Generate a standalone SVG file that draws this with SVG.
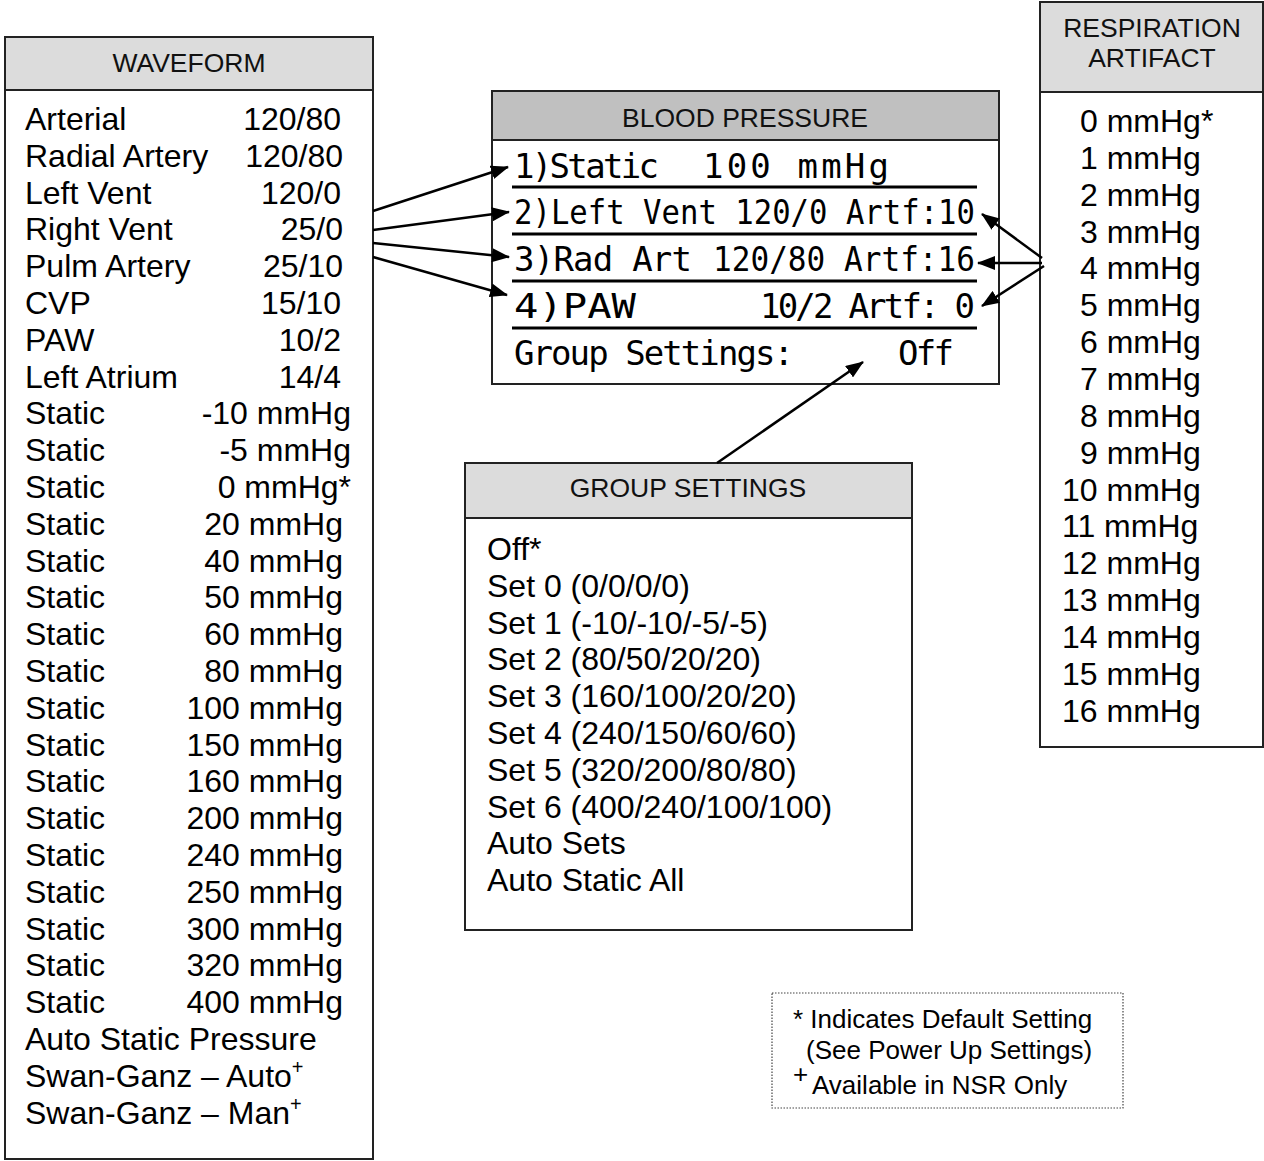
<svg xmlns="http://www.w3.org/2000/svg" width="1264" height="1161" viewBox="0 0 1264 1161">
<style>
.box{fill:#fff;stroke:#222;stroke-width:2}
.hdr{fill:#dcdcdc;stroke:#222;stroke-width:2}
.hdr2{fill:#c0c0c0;stroke:#222;stroke-width:2}
.ht{font-family:"Liberation Sans",Arial,sans-serif;font-size:26.5px;fill:#111;text-anchor:middle}
.t{font-family:"Liberation Sans",Arial,sans-serif;font-size:32px;fill:#000}
.v{font-family:"Liberation Sans",Arial,sans-serif;font-size:32px;fill:#000;text-anchor:end}
.sup{font-size:20px}
.lcd{font-family:"DejaVu Sans Mono","Liberation Mono",monospace;font-size:34px;fill:#000}
.sep{stroke:#000;stroke-width:3}
.note{font-family:"Liberation Sans",Arial,sans-serif;font-size:26px;fill:#000}
.conn{stroke:#000;stroke-width:2.5;fill:none;marker-end:url(#ah)}
</style>
<defs>
<marker id="ah" markerUnits="userSpaceOnUse" markerWidth="18" markerHeight="14" refX="17" refY="7" orient="auto">
<path d="M0,0 L18,7 L0,14 z" fill="#000"/>
</marker>
</defs>
<rect width="1264" height="1161" fill="#fff"/>

<g id="waveform">
<rect class="box" x="5" y="37" width="368" height="1122"/>
<rect class="hdr" x="5" y="37" width="368" height="53"/>
<text class="ht" x="189" y="72">WAVEFORM</text>
<text class="t" x="25" y="130">Arterial</text><text class="v" x="341" y="130">120/80</text>
<text class="t" x="25" y="166.8">Radial Artery</text><text class="v" x="343" y="166.8">120/80</text>
<text class="t" x="25" y="203.6">Left Vent</text><text class="v" x="341" y="203.6">120/0</text>
<text class="t" x="25" y="240.4">Right Vent</text><text class="v" x="343" y="240.4">25/0</text>
<text class="t" x="25" y="277.2">Pulm Artery</text><text class="v" x="343" y="277.2">25/10</text>
<text class="t" x="25" y="314">CVP</text><text class="v" x="341" y="314">15/10</text>
<text class="t" x="25" y="350.8">PAW</text><text class="v" x="341" y="350.8">10/2</text>
<text class="t" x="25" y="387.6">Left Atrium</text><text class="v" x="341" y="387.6">14/4</text>
<text class="t" x="25" y="424.4">Static</text><text class="v" x="351" y="424.4">-10 mmHg</text>
<text class="t" x="25" y="461.2">Static</text><text class="v" x="351" y="461.2">-5 mmHg</text>
<text class="t" x="25" y="498">Static</text><text class="v" x="351" y="498">0 mmHg*</text>
<text class="t" x="25" y="534.8">Static</text><text class="v" x="343" y="534.8">20 mmHg</text>
<text class="t" x="25" y="571.6">Static</text><text class="v" x="343" y="571.6">40 mmHg</text>
<text class="t" x="25" y="608.4">Static</text><text class="v" x="343" y="608.4">50 mmHg</text>
<text class="t" x="25" y="645.2">Static</text><text class="v" x="343" y="645.2">60 mmHg</text>
<text class="t" x="25" y="682">Static</text><text class="v" x="343" y="682">80 mmHg</text>
<text class="t" x="25" y="718.8">Static</text><text class="v" x="343" y="718.8">100 mmHg</text>
<text class="t" x="25" y="755.6">Static</text><text class="v" x="343" y="755.6">150 mmHg</text>
<text class="t" x="25" y="792.4">Static</text><text class="v" x="343" y="792.4">160 mmHg</text>
<text class="t" x="25" y="829.2">Static</text><text class="v" x="343" y="829.2">200 mmHg</text>
<text class="t" x="25" y="866">Static</text><text class="v" x="343" y="866">240 mmHg</text>
<text class="t" x="25" y="902.8">Static</text><text class="v" x="343" y="902.8">250 mmHg</text>
<text class="t" x="25" y="939.6">Static</text><text class="v" x="343" y="939.6">300 mmHg</text>
<text class="t" x="25" y="976.4">Static</text><text class="v" x="343" y="976.4">320 mmHg</text>
<text class="t" x="25" y="1013.2">Static</text><text class="v" x="343" y="1013.2">400 mmHg</text>
<text class="t" x="25" y="1050">Auto Static Pressure</text>
<text class="t" x="25" y="1086.8">Swan-Ganz – Auto<tspan class="sup" dy="-13">+</tspan></text>
<text class="t" x="25" y="1123.6">Swan-Ganz – Man<tspan class="sup" dy="-13">+</tspan></text>
</g>

<g id="blood-pressure">
<rect class="box" x="492" y="91" width="507" height="293"/>
<rect class="hdr2" x="492" y="91" width="507" height="49"/>
<text class="ht" x="745" y="127">BLOOD PRESSURE</text>
<text class="lcd" x="514" y="178" textLength="145" lengthAdjust="spacing">1)Static</text>
<text class="lcd" x="703" y="178" textLength="186" lengthAdjust="spacing">100 mmHg</text>
<line class="sep" x1="512" y1="187" x2="977" y2="187"/>
<text class="lcd" x="514" y="224" textLength="461" lengthAdjust="spacingAndGlyphs">2)Left Vent 120/0 Artf:10</text>
<line class="sep" x1="512" y1="234" x2="977" y2="234"/>
<text class="lcd" x="514" y="271" textLength="178" lengthAdjust="spacing">3)Rad Art</text>
<text class="lcd" x="713" y="271" textLength="262" lengthAdjust="spacingAndGlyphs">120/80 Artf:16</text>
<line class="sep" x1="512" y1="281" x2="977" y2="281"/>
<text class="lcd" x="514" y="318" textLength="122" lengthAdjust="spacingAndGlyphs">4)PAW</text>
<text class="lcd" x="760" y="318" textLength="215" lengthAdjust="spacing">10/2 Artf: 0</text>
<line class="sep" x1="512" y1="328" x2="977" y2="328"/>
<text class="lcd" x="514" y="365" textLength="280" lengthAdjust="spacing">Group Settings:</text>
<text class="lcd" x="898" y="365" textLength="56" lengthAdjust="spacing">Off</text>
</g>

<g id="respiration-artifact">
<rect class="box" x="1040" y="2" width="223" height="745"/>
<rect class="hdr" x="1040" y="2" width="223" height="90"/>
<text class="ht" x="1152" y="37">RESPIRATION</text>
<text class="ht" x="1152" y="67">ARTIFACT</text>
<text class="t" x="1080" y="132">0 mmHg*</text>
<text class="t" x="1080" y="168.85">1 mmHg</text>
<text class="t" x="1080" y="205.7">2 mmHg</text>
<text class="t" x="1080" y="242.55">3 mmHg</text>
<text class="t" x="1080" y="279.4">4 mmHg</text>
<text class="t" x="1080" y="316.25">5 mmHg</text>
<text class="t" x="1080" y="353.1">6 mmHg</text>
<text class="t" x="1080" y="389.95">7 mmHg</text>
<text class="t" x="1080" y="426.8">8 mmHg</text>
<text class="t" x="1080" y="463.65">9 mmHg</text>
<text class="t" x="1062" y="500.5">10 mmHg</text>
<text class="t" x="1062" y="537.35">11 mmHg</text>
<text class="t" x="1062" y="574.2">12 mmHg</text>
<text class="t" x="1062" y="611.05">13 mmHg</text>
<text class="t" x="1062" y="647.9">14 mmHg</text>
<text class="t" x="1062" y="684.75">15 mmHg</text>
<text class="t" x="1062" y="721.6">16 mmHg</text>
</g>

<g id="group-settings">
<rect class="box" x="465" y="463" width="447" height="467"/>
<rect class="hdr" x="465" y="463" width="447" height="55"/>
<text class="ht" x="688" y="497">GROUP SETTINGS</text>
<text class="t" x="487" y="560">Off*</text>
<text class="t" x="487" y="596.8">Set 0 (0/0/0/0)</text>
<text class="t" x="487" y="633.6">Set 1 (-10/-10/-5/-5)</text>
<text class="t" x="487" y="670.4">Set 2 (80/50/20/20)</text>
<text class="t" x="487" y="707.2">Set 3 (160/100/20/20)</text>
<text class="t" x="487" y="744">Set 4 (240/150/60/60)</text>
<text class="t" x="487" y="780.8">Set 5 (320/200/80/80)</text>
<text class="t" x="487" y="817.6">Set 6 (400/240/100/100)</text>
<text class="t" x="487" y="854.4">Auto Sets</text>
<text class="t" x="487" y="891.2">Auto Static All</text>
</g>

<g id="note">
<rect x="772" y="993" width="351" height="115" fill="#fff" stroke="#444" stroke-width="1.2" stroke-dasharray="1.5,1.5"/>
<text class="note" x="793" y="1028">* Indicates Default Setting</text>
<text class="note" x="806" y="1059">(See Power Up Settings)</text>
<text class="note" x="793" y="1083" font-size="18">+</text>
<text class="note" x="812" y="1094">Available in NSR Only</text>
</g>

<g id="connectors">
<line class="conn" x1="373" y1="211" x2="508" y2="167"/>
<line class="conn" x1="373" y1="230" x2="509" y2="212"/>
<line class="conn" x1="373" y1="243" x2="509" y2="257"/>
<line class="conn" x1="373" y1="257" x2="507" y2="295"/>
<line class="conn" x1="1042" y1="258" x2="982" y2="214"/>
<line class="conn" x1="1042" y1="263" x2="978" y2="263"/>
<line class="conn" x1="1044" y1="266" x2="982" y2="306"/>
<line class="conn" x1="717" y1="463" x2="863" y2="362"/>
</g>
</svg>
